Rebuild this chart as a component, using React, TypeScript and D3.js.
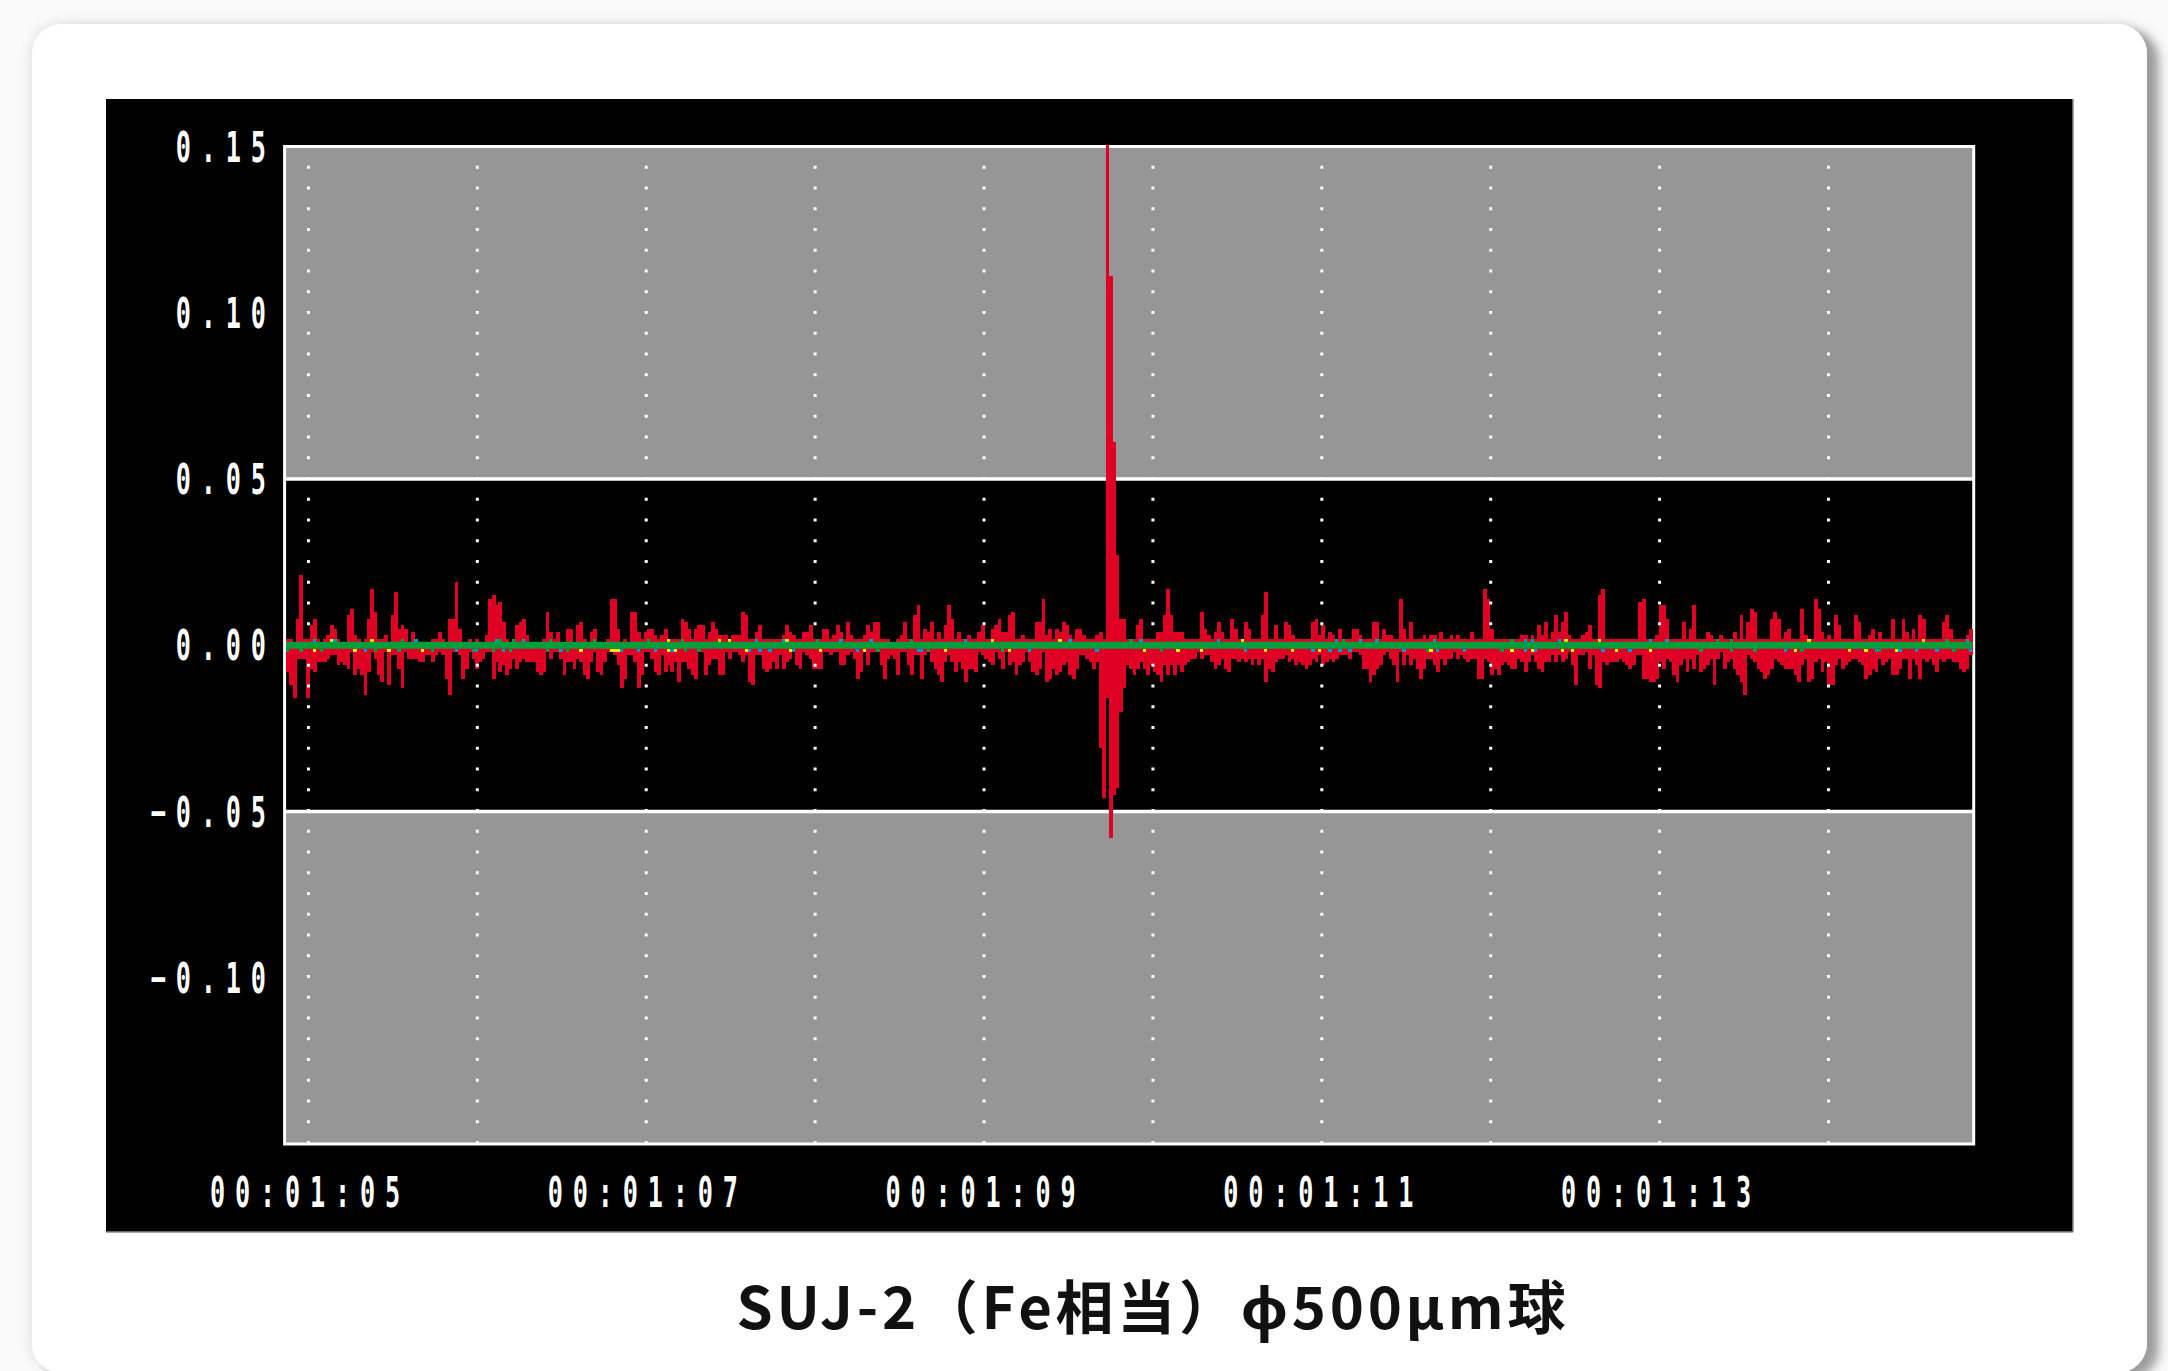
import React from 'react';
import * as d3 from 'd3';

// ---------- data (values in units of 0.001) ----------
const UNIT = 0.001;

// upper envelope of each sample column
const envelopeHigh = [
  2,2,1,8,21,2,2,6,8,2, 1,2,3,6,5,2,1,1,9,11, 3,2,1,2,8,17,10,2,2,3, 1,9,16,5,6,5,1,4,2,1,
  1,1,1,2,2,4,2,1,8,8, 19,5,1,1,2,1,2,1,1,3, 14,15,12,13,7,2,1,2,6,7, 8,3,1,1,1,1,2,10,4,2,
  4,1,1,5,5,1,6,7,2,1, 4,5,1,1,1,2,14,14,5,1, 2,1,10,10,4,2,4,5,5,3, 2,3,5,2,
  2,2,2,8,7,5,2,5,6,6, 2,4,7,5,3,3,3,2,3,3, 3,10,9,2,2,4,6,2,2,2, 2,2,2,3,6,4,3,2,2,4,
  4,6,2,1,2,5,5,2,3,6, 4,2,7,3,2,2,2,3,6,4, 7,7,2,2,2,1,1,2,3,7, 2,2,9,12,2,5,4,7,2,4,
  2,6,12,8,2,4,2,2,3,2, 2,4,6,2,2,5,6,8,4,4, 9,10,2,2,3,2,2,2,7,7, 14,3,5,2,5,4,7,6,3,2,
  5,5,3,2,2,2,3,
  4,2,155,111,61,27,8,8,
  2,2,2,6,8,2,2,2,2,4, 4,9,17,9,4,4,4,2,2,2, 2,2,10,5,3,2,4,7,4,2, 2,8,5,2,2,7,5,2,2,2,
  9,16,2,2,6,2,2,7,6,3, 2,2,2,2,2,7,8,3,
  6,2,4,3,2,5,2,2,2,5, 5,3,2,2,2,7,7,2,5,3, 3,2,2,14,5,2,7,2,2,2, 3,2,3,3,2,4,2,2,3,2,
  3,2,2,2,4,2,2,2,17,14, 5,2,2,2,2,2,2,2,2,3, 3,2,3,2,6,3,7,2,4,9, 4,7,10,3,2,2,2,3,4,6,
  2,2,15,17,2,2,2,2,2,2, 2,2,2,2,13,14,2,2,2,3, 12,12,8,2,2,2,2,7,2,5, 12,2,2,2,4,3,2,2,3,2,
  2,2,4,2,9,2,7,11,10,2, 2,2,2,8,10,8,2,4,5,2, 2,2,11,3,2,2,14,11,4,2, 3,2,9,6,2,2,2,2,9,7,
  2,2,3,5,2,4,2,2,2,8, 2,2,8,4,2,5,2,9,8,2, 2,2,2,2,7,9,5,2,2,2, 2,3,5,
];

// lower envelope of each sample column
const envelopeLow = [
  -8,-12,-16,-4,-4,-4,-16,-7,-8,-5, -5,-5,-4,-3,-3,-6,-5,-6,-7,-2, -9,-7,-9,-15,-8,-2,-4,-9,-11,-2,
  -12,-3,-3,-7,-13,-2,-4,-4,-4,-5, -5,-3,-3,-5,-3,-2,-3,-10,-15,-2, -2,-3,-10,-7,-2,-4,-7,-5,-4,-2,
  -2,-10,-5,-8,-6,-9,-7,-4,-7,-5, -4,-5,-5,-5,-8,-9,-8,-2,-4,-2, -2,-4,-9,-5,-5,-7,-4,-5,-9,-10,
  -5,-2,-8,-9,-5,-2,-2,-3,-6,-13, -10,-3,-3,-5,-13,-9,-2,-2,-4,-8, -9,-3,-8,-6,
  -8,-5,-11,-5,-5,-7,-9,-10,-2,-2, -9,-6,-4,-4,-9,-9,-2,-4,-2,-2, -3,-5,-3,-11,-12,-3,-3,-7,-8,-7,
  -5,-7,-3,-7,-5,-4,-2,-6,-7,-2, -3,-4,-7,-7,-7,-2,-2,-3,-2,-2, -6,-6,-3,-2,-4,-10,-8,-2,-6,-2,
  -2,-2,-6,-10,-4,-3,-4,-9,-2,-2, -6,-9,-3,-3,-10,-3,-2,-5,-7,-9, -11,-5,-3,-5,-8,-5,-7,-11,-7,-7,
  -8,-2,-3,-4,-5,-6,-2,-4,-7,-2, -6,-5,-9,-6,-5,-2,-5,-8,-9,-7, -2,-11,-10,-7,-9,-8,-6,-5,-9,-10,
  -7,-3,-3,-4,-5,-7,-5,
  -31,-46,-16,-58,-45,-43,-20,-13,
  -6,-7,-9,-7,-5,-7,-9,-6,-8,-9, -11,-6,-9,-6,-9,-6,-8,-6,-5,-4, -4,-2,-4,-3,-3,-5,-7,-6,-4,-7,
  -8,-4,-4,-5,-4,-5,-4,-6,-4,-6, -4,-11,-7,-8,-5,-4,-4,-3,-5,-4, -6,-5,-6,-7,-6,-4,-5,-3,
  -6,-5,-4,-5,-4,-3,-3,-3,-4,-2, -2,-3,-7,-7,-11,-9,-7,-6,-3,-2, -4,-6,-11,-2,-6,-3,-6,-4,-7,-10,
  -7,-4,-4,-6,-8,-4,-6,-4,-4,-2, -4,-3,-4,-5,-4,-4,-10,-10,-4,-5, -9,-7,-9,-6,-5,-6,-7,-7,-4,-5,
  -8,-5,-3,-5,-7,-8,-5,-5,-3,-5, -3,-5,-4,-2,-6,-12,-3,-3,-2,-7, -3,-12,-13,-5,-6,-5,-5,-5,-4,-5,
  -6,-7,-6,-3,-3,-10,-10,-11,-11,-10, -5,-7,-4,-5,-9,-11,-6,-4,-8,-4, -7,-3,-8,-7,-6,-4,-12,-4,-2,-7,
  -5,-4,-7,-9,-11,-15,-3,-4,-5,-7, -8,-10,-9,-7,-4,-5,-6,-7,-7,-7, -9,-11,-6,-4,-11,-10,-5,-4,-8,-5,
  -12,-12,-6,-4,-7,-6,-5,-4,-4,-5, -6,-10,-9,-7,-8,-4,-6,-5,-4,-9, -9,-7,-4,-4,-10,-4,-6,-10,-4,-5,
  -4,-6,-8,-4,-5,-4,-4,-5,-5,-7, -8,-7,-3,
];

// small coloured trace pixels peeking out of the green baseline (sample indices)
const yellowAbove = [13, 25, 113, 128, 131, 148, 209, 229, 283, 379, 389, 451, 485];
const blueAbove = [8, 14, 38, 62, 70, 139, 147, 164, 173, 201, 232, 253, 276, 311, 318, 323, 340, 367, 369, 377, 404, 409, 498];
const greenAbove = [34, 63, 67, 78, 91, 107, 117, 157, 185, 250, 313, 363, 424, 428, 492];
const yellowBelow = [8, 20, 30, 40, 87, 96, 97, 98, 113, 115, 136, 149, 158, 171, 195, 214, 254, 264, 271, 290, 298, 306, 339, 363, 369, 378, 381, 394, 404, 447, 463, 468, 477];
const blueBelow = [23, 50, 56, 64, 77, 81, 99, 104, 109, 114, 137, 140, 143, 150, 169, 187, 188, 220, 240, 284, 304, 309, 312, 315, 331, 341, 349, 367, 370, 390, 398, 444, 471, 478, 483, 489, 499];
const greenBelow = [0, 4, 10, 26, 33, 43, 55, 61, 66, 77, 83, 118, 122, 175, 190, 212, 259, 338, 360, 419, 428, 435, 449, 472, 494];

const yTickValues = [0.15, 0.1, 0.05, 0.0, -0.05, -0.1];
const xLabelSeconds = [65, 67, 69, 71, 73];
const gridSeconds = [65, 66, 67, 68, 69, 70, 71, 72, 73, 74];
const TIME_START = 64.876;
const TIME_END = 74.861;
const Y_MIN = -0.15;
const Y_MAX = 0.15;
const BAND_LIMIT = 0.05;
const CAPTION = 'SUJ-2（Fe相当）ϕ500μm球';

// ---------- layout ----------
const W = 2168;
const H = 1371;
const PANEL = { x: 106, y: 99, w: 1967, h: 1133 };
const PLOT_X0 = 286;
const PLOT_X1 = 1972.4;
const PLOT_Y0 = 146.5;
const PLOT_Y1 = 1144;
const BORDER_L = 284.6;
const BORDER_R = 1973.7;

const COLORS = {
  red: '#e00024',
  green: '#009f3c',
  yellow: '#f2ee00',
  blue: '#0096dc',
  gray: '#969696',
};

const fmtY = d3.formatLocale({ decimal: '.', thousands: ',', grouping: [3], currency: ['', ''], minus: '\u2212' }).format('.2f');
const fmtT = (s: number) => {
  const m = Math.floor(s / 60);
  const sec = Math.round(s - m * 60);
  return `00:${String(m).padStart(2, '0')}:${String(sec).padStart(2, '0')}`;
};

const PIX_FONT = "'DejaVu Sans Mono', 'Liberation Mono', monospace";
const FONT_SIZE = 42;
const SCALE_X = 0.6;
const ADVANCE = 25;
const LS = ADVANCE / SCALE_X - 0.602 * FONT_SIZE;

export default function App() {
  const x = d3.scaleLinear().domain([TIME_START, TIME_END]).range([PLOT_X0, PLOT_X1]);
  const y = d3.scaleLinear().domain([Y_MIN, Y_MAX]).range([PLOT_Y1, PLOT_Y0]);
  const n = envelopeHigh.length;
  const dt = (TIME_END - TIME_START) / n;
  const colX = (i: number) => x(TIME_START + i * dt);
  const colW = colX(1) - colX(0);

  const markers = (idx: number[], color: string, above: boolean, key: string) =>
    idx.map((i) => {
      const ya = above ? y(2 * UNIT) : y(-UNIT);
      const yb = above ? y(UNIT) : y(-2 * UNIT);
      return (
        <rect key={key + i} x={colX(i)} y={ya} width={colW} height={yb - ya} fill={color} shapeRendering="crispEdges" />
      );
    });

  const yLabelRight = 263;

  return (
    <svg width={W} height={H} style={{ position: 'absolute', left: 0, top: 0, display: 'block', background: '#ffffff' }}>
      <defs>
        <filter id="cardShadow" x="-5%" y="-5%" width="115%" height="115%">
          <feDropShadow dx="0" dy="0" stdDeviation="7" floodColor="#000" floodOpacity="0.12" />
          <feDropShadow dx="12" dy="6" stdDeviation="5" floodColor="#000" floodOpacity="0.35" />
        </filter>
        <clipPath id="plotClip">
          <rect x={BORDER_L} y={PLOT_Y0 - 1.5} width={BORDER_R - BORDER_L} height={PLOT_Y1 - PLOT_Y0 + 3} />
        </clipPath>
      </defs>

      <rect x={0} y={0} width={W} height={H} fill="#fafafa" />
      <rect x={32} y={24} width={2115} height={1349} rx={30} ry={30} fill="#ffffff" filter="url(#cardShadow)" />

      {/* black instrument panel */}
      <rect x={PANEL.x} y={PANEL.y} width={PANEL.w} height={PANEL.h} fill="#000" />
      <line x1={PANEL.x + PANEL.w} x2={PANEL.x + PANEL.w} y1={PANEL.y} y2={PANEL.y + PANEL.h} stroke="#8a8a8a" strokeWidth={1.5} />
      <line x1={PANEL.x} x2={PANEL.x + PANEL.w} y1={PANEL.y + PANEL.h} y2={PANEL.y + PANEL.h} stroke="#8a8a8a" strokeWidth={1.5} />

      {/* gray out-of-range bands */}
      <rect x={BORDER_L} y={y(Y_MAX)} width={BORDER_R - BORDER_L} height={y(BAND_LIMIT) - y(Y_MAX)} fill={COLORS.gray} />
      <rect x={BORDER_L} y={y(-BAND_LIMIT)} width={BORDER_R - BORDER_L} height={y(Y_MIN) - y(-BAND_LIMIT)} fill={COLORS.gray} />

      {/* plot border and limit lines */}
      <rect x={BORDER_L} y={PLOT_Y0} width={BORDER_R - BORDER_L} height={PLOT_Y1 - PLOT_Y0} fill="none" stroke="#fff" strokeWidth={3} />
      {[BAND_LIMIT, -BAND_LIMIT].map((v) => (
        <line key={'lim' + v} x1={BORDER_L} x2={BORDER_R} y1={y(v)} y2={y(v)} stroke="#fff" strokeWidth={3.3} />
      ))}

      {/* signal envelope */}
      <g clipPath="url(#plotClip)">
        {envelopeHigh.map((h, i) => {
          const y0 = y(h * UNIT);
          const y1 = y(envelopeLow[i] * UNIT);
          return (
            <rect key={'s' + i} x={colX(i)} y={y0} width={colW + 0.4} height={y1 - y0} fill={COLORS.red} shapeRendering="crispEdges" />
          );
        })}
      </g>

      {/* dotted time grid */}
      {gridSeconds.map((s) => (
        <line
          key={'g' + s}
          x1={x(s) + 1.5}
          x2={x(s) + 1.5}
          y1={PLOT_Y0 - 1.5}
          y2={PLOT_Y1 + 1.5}
          stroke="#fff"
          strokeWidth={3}
          strokeDasharray="3 17.75"
        />
      ))}

      {/* small trace pixels and green baseline */}
      {markers(yellowAbove, COLORS.yellow, true, 'ya')}
      {markers(blueAbove, COLORS.blue, true, 'ba')}
      {markers(greenAbove, COLORS.green, true, 'ga')}
      {markers(yellowBelow, COLORS.yellow, false, 'yb')}
      {markers(blueBelow, COLORS.blue, false, 'bb')}
      {markers(greenBelow, COLORS.green, false, 'gb')}
      <line x1={PLOT_X0} x2={PLOT_X1} y1={y(0)} y2={y(0)} stroke={COLORS.green} strokeWidth={7} />

      {/* y tick labels */}
      {yTickValues.map((v) => {
        const label = fmtY(v);
        const xs = yLabelRight - 12.3 - (label.length - 1) * ADVANCE;
        return (
          <text
            key={'yl' + v}
            transform={`translate(${xs},${y(v) + 15}) scale(${SCALE_X},1)`}
            fontFamily={PIX_FONT}
            fontSize={FONT_SIZE}
            fontWeight="bold"
            fill="#fff"
            style={{ letterSpacing: `${LS}px` }}
          >
            {label}
          </text>
        );
      })}

      {/* x tick labels */}
      {xLabelSeconds.map((s) => {
        const label = fmtT(s);
        const xs = x(s) - 97;
        return (
          <text
            key={'xl' + s}
            transform={`translate(${xs},1207) scale(${SCALE_X},1)`}
            fontFamily={PIX_FONT}
            fontSize={FONT_SIZE}
            fontWeight="bold"
            fill="#fff"
            style={{ letterSpacing: `${LS}px` }}
          >
            {label}
          </text>
        );
      })}

      {/* caption */}
      <text
        x={1151}
        y={1329}
        textAnchor="middle"
        fontFamily="'Noto Sans CJK JP', 'Noto Sans', sans-serif"
        fontWeight={700}
        fontSize={58}
        fill="#111"
        textLength={829}
        lengthAdjust="spacing"
      >
        {CAPTION}
      </text>
    </svg>
  );
}
